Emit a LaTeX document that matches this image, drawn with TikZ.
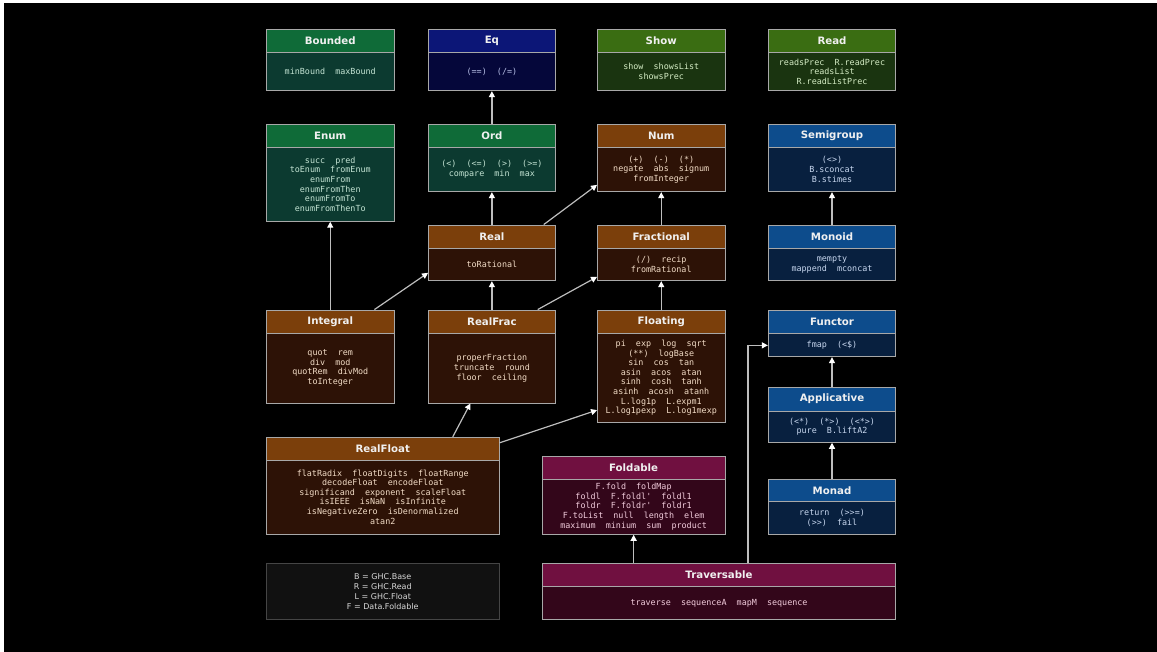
\documentclass[tikz,border=0pt]{standalone}
\usepackage{fontspec}
\setsansfont{DejaVu Sans}
\setmonofont{DejaVu Sans Mono}
\usetikzlibrary{arrows.meta,fit}
\definecolor{grnH}{HTML}{0F6B38}\definecolor{grnB}{HTML}{0C3A30}\definecolor{grnT}{HTML}{C4E4D4}
\definecolor{eqH}{HTML}{0C1677}\definecolor{eqB}{HTML}{05073A}\definecolor{eqT}{HTML}{B8C0E8}
\definecolor{oliH}{HTML}{3A6D12}\definecolor{oliB}{HTML}{1A3410}\definecolor{oliT}{HTML}{D4ECC4}
\definecolor{brnH}{HTML}{7B3F0B}\definecolor{brnB}{HTML}{2D1206}\definecolor{brnT}{HTML}{F2DCC6}
\definecolor{bluH}{HTML}{0D4C8C}\definecolor{bluB}{HTML}{08203F}\definecolor{bluT}{HTML}{C8D8F0}
\definecolor{magH}{HTML}{701040}\definecolor{magB}{HTML}{33061A}\definecolor{magT}{HTML}{F2CCDC}
\definecolor{frameC}{HTML}{A8A8A8}
\definecolor{arrowC}{HTML}{BEBEBE}
\definecolor{legB}{HTML}{111111}\definecolor{legF}{HTML}{454545}
\tikzset{
  boxframe/.style={draw=frameC, line width=0.9pt, inner sep=0pt},
  boxline/.style={draw=frameC, line width=0.9pt},
  titletext/.style={font=\sffamily\bfseries\fontsize{10.2}{12}\selectfont, text=white!94!black, inner sep=0pt},
  bodytext/.style={font=\ttfamily\fontsize{8.4}{9.6}\selectfont, align=center, inner sep=0pt},
  inh/.style={draw=arrowC, line width=1.2pt, -{Triangle[length=6pt,width=6pt,fill=white,color=white]}},
}
\newcommand{\classbox}[9]{%
  \fill[#9H] (#2,#3) rectangle (#4,#6);
  \fill[#9B] (#2,#6) rectangle (#4,#5);
  \draw[boxline] (#2,#6) -- (#4,#6);
  \node[boxframe, fit={(#2,#3) (#4,#5)}] (#1) {};
  \node[titletext] (#1-t) at ({(#2+#4)/2},{(#3+#6)/2}) {#7};
  \node[bodytext, text=#9T] (#1-b) at ({(#2+#4)/2},{(#6+#5)/2}) {#8};
}
\begin{document}
\begin{tikzpicture}[x=1pt,y=-1pt]
\useasboundingbox (0,0) rectangle (1157,652);
\fill[white] (0,0) rectangle (1157,652);
\fill[black] (4,3) rectangle (1157,652);

% row 1
\classbox{bounded}{266.5}{29.3}{394}{90.7}{52.3}{Bounded}{minBound~~maxBound}{grn}
\classbox{eq}{428.5}{29.3}{555.3}{90.7}{52.3}{Eq}{(==)~~(/=)}{eq}
\classbox{show}{597.5}{29.3}{725}{90.7}{52.3}{Show}{show~~showsList\\showsPrec}{oli}
\classbox{read}{768.3}{29.3}{895.7}{90.7}{52.3}{Read}{readsPrec~~R.readPrec\\readsList\\R.readListPrec}{oli}

% row 2
\classbox{enum}{266.5}{124}{394}{221.3}{147}{Enum}{succ~~pred\\toEnum~~fromEnum\\enumFrom\\enumFromThen\\enumFromTo\\enumFromThenTo}{grn}
\classbox{ord}{428.5}{124}{555.3}{191.7}{147}{Ord}{(<)~~(<=)~~(>)~~(>=)\\compare~~min~~max}{grn}
\classbox{num}{597.5}{124}{725}{191.7}{147}{Num}{(+)~~(-)~~(*)\\negate~~abs~~signum\\fromInteger}{brn}
\classbox{semigroup}{768.3}{124}{895.7}{191.7}{147}{Semigroup}{(<>)\\B.sconcat\\B.stimes}{blu}

% row 3
\classbox{real}{428.5}{225}{555.3}{280.7}{248}{Real}{toRational}{brn}
\classbox{fractional}{597.5}{225}{725}{280.7}{248}{Fractional}{(/)~~recip\\fromRational}{brn}
\classbox{monoid}{768.3}{225}{895.7}{280.7}{248}{Monoid}{mempty\\mappend~~mconcat}{blu}

% row 4
\classbox{integral}{266.5}{310}{394}{403}{333.3}{Integral}{quot~~rem\\div~~mod\\quotRem~~divMod\\toInteger}{brn}
\classbox{realfrac}{428.5}{310}{555.3}{403}{333.3}{RealFrac}{properFraction\\truncate~~round\\floor~~ceiling}{brn}
\classbox{floating}{597.5}{310}{725}{422.3}{333.3}{Floating}{pi~~exp~~log~~sqrt\\(**)~~logBase\\sin~~cos~~tan\\asin~~acos~~atan\\sinh~~cosh~~tanh\\asinh~~acosh~~atanh\\L.log1p~~L.expm1\\L.log1pexp~~L.log1mexp}{brn}
\classbox{functor}{768.3}{310}{895.7}{356.7}{333.3}{Functor}{fmap~~(<\$)}{blu}
\classbox{applicative}{768.3}{387.3}{895.7}{442.3}{411}{Applicative}{(<*)~~(*>)~~(<*>)\\pure~~B.liftA2}{blu}

% row 5
\classbox{realfloat}{266.5}{437.3}{499}{534}{460}{RealFloat}{flatRadix~~floatDigits~~floatRange\\decodeFloat~~encodeFloat\\significand~~exponent~~scaleFloat\\isIEEE~~isNaN~~isInfinite\\isNegativeZero~~isDenormalized\\atan2}{brn}
\classbox{foldable}{542.3}{456}{725}{534.3}{479}{Foldable}{F.fold~~foldMap\\foldl~~F.foldl'~~foldl1\\foldr~~F.foldr'~~foldr1\\F.toList~~null~~length~~elem\\maximum~~minium~~sum~~product}{mag}
\classbox{monad}{768.3}{479}{895.7}{534.3}{501.7}{Monad}{return~~(>>=)\\(>>)~~fail}{blu}

% row 6
\node[draw=legF, fill=legB, line width=0.8pt, inner sep=0pt, fit={(266.5,563.3) (499,619)}] (legend) {};
\node[font=\sffamily\fontsize{8}{10}\selectfont, text=white!85!black, align=center, inner sep=0pt] (legend-t) at (legend.center) {B = GHC.Base\\R = GHC.Read\\L = GHC.Float\\F = Data.Foldable};
\classbox{traversable}{542.3}{563.3}{895.7}{619}{586.7}{Traversable}{traverse~~sequenceA~~mapM~~sequence}{mag}

% inheritance arrows
\draw[inh] (ord.north) -- (eq.south);
\draw[inh] (real.north) -- (ord.south);
\draw[inh] (realfrac.north) -- (real.south);
\draw[inh] (integral.north) -- (enum.south);
\draw[inh] ([xshift=-20pt]integral.north east) -- ([yshift=-20pt]real.west);
\draw[inh] ([xshift=-12pt]real.north east) -- ([yshift=-27pt]num.west);
\draw[inh] (fractional.north) -- (num.south);
\draw[inh] ([xshift=-18pt]realfrac.north east) -- ([yshift=-24pt]fractional.west);
\draw[inh] (floating.north) -- (fractional.south);
\draw[inh] ([xshift=70pt]realfloat.north) -- ([xshift=-21.5pt]realfrac.south);
\draw[inh] ([yshift=-6pt]realfloat.north east) -- ([yshift=-44pt]floating.west);
\draw[inh] (monoid.north) -- (semigroup.south);
\draw[inh] (applicative.north) -- (functor.south);
\draw[inh] (monad.north) -- (applicative.south);
\draw[inh] (foldable.south |- traversable.north) -- (foldable.south);
\draw[inh] ([xshift=29pt]traversable.north) |- ([yshift=-12pt]functor.west);
\end{tikzpicture}
\end{document}
